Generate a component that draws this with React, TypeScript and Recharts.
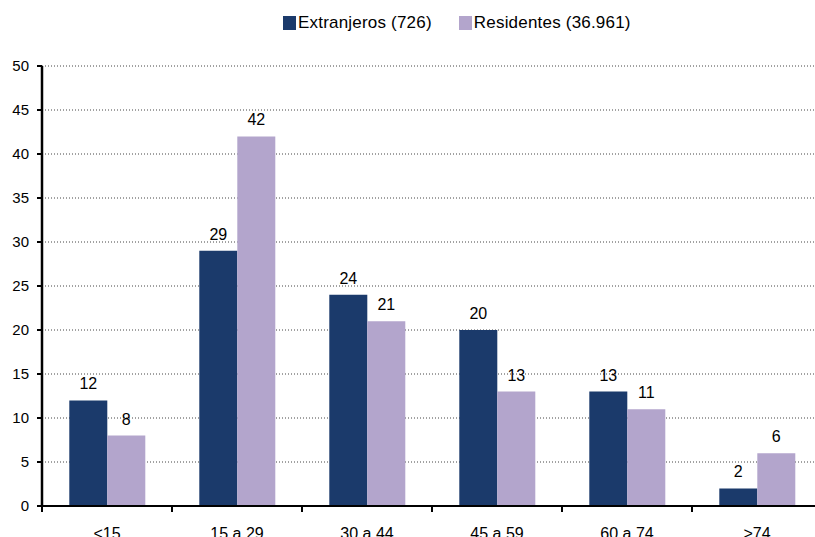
import React from 'react';
import { BarChart, Bar, XAxis, YAxis, CartesianGrid, Legend, LabelList } from 'recharts';

const categories = ['<15', '15 a 29', '30 a 44', '45 a 59', '60 a 74', '>74'];
const extranjeros = [12, 29, 24, 20, 13, 2];
const residentes = [8, 42, 21, 13, 11, 6];
const yTicks = [0, 5, 10, 15, 20, 25, 30, 35, 40, 45, 50];
const seriesNames = ['Extranjeros (726)', 'Residentes (36.961)'];
const seriesColors = ['#1B3A6B', '#B3A5CC'];

const data = categories.map((c, i) => ({ cat: c, ext: extranjeros[i], res: residentes[i] }));

const FONT = '"Liberation Sans", Arial, sans-serif';
const HALF_BAND = 65;

const XTick = (props: any) => {
  const { x, y, payload } = props;
  const axisY = y - 22;
  return (
    <g>
      <line x1={x - HALF_BAND} x2={x - HALF_BAND} y1={axisY} y2={axisY + 6} stroke="#000" strokeWidth={2} />
      <text x={x} y={y} dy="0.71em" textAnchor="middle" fontSize={16} fontFamily={FONT} fill="#000">
        {payload.value}
      </text>
    </g>
  );
};

const LegendContent = () => (
  <div style={{ display: 'flex', alignItems: 'center', fontFamily: FONT, fontSize: 17, color: '#000' }}>
    {seriesNames.map((n, i) => (
      <div key={n} style={{ display: 'flex', alignItems: 'center', marginRight: i === 0 ? 27 : 0 }}>
        <div style={{ width: 13, height: 14, background: seriesColors[i], marginRight: 2 }} />
        <span style={{ whiteSpace: 'nowrap', letterSpacing: 0.2 }}>{n}</span>
      </div>
    ))}
  </div>
);

export default function App() {
  return (
    <div style={{ position: 'fixed', left: 0, top: 0, width: 815, height: 537, overflow: 'hidden', background: '#fff' }}>
      <BarChart
        width={830}
        height={560}
        data={data}
        margin={{ top: 66, right: 8, bottom: 24, left: 0 }}
        barCategoryGap="21%"
        barGap={0}
      >
        <CartesianGrid vertical={false} stroke="#444" strokeDasharray="1 2" />
        <XAxis
          dataKey="cat"
          height={30}
          tick={<XTick />}
          tickLine={false}
          tickSize={6}
          tickMargin={16}
          axisLine={{ stroke: '#000', strokeWidth: 2 }}
          interval={0}
        />
        <YAxis
          width={42}
          domain={[0, 50]}
          ticks={yTicks}
          interval={0}
          tickSize={5}
          tickMargin={8}
          tickLine={{ stroke: '#000', strokeWidth: 2 }}
          axisLine={{ stroke: '#000', strokeWidth: 2.5 }}
          tick={{ fill: '#000', fontSize: 15, fontFamily: FONT }}
        />
        <Legend
          verticalAlign="middle"
          align="center"
          layout="horizontal"
          content={<LegendContent />}
          wrapperStyle={{ position: 'absolute', left: 283, top: 13, width: 'auto' }}
        />
        <Bar dataKey="ext" name={seriesNames[0]} fill={seriesColors[0]} isAnimationActive={false}>
          <LabelList dataKey="ext" position="top" offset={11} fill="#000" fontSize={16} fontFamily={FONT} />
        </Bar>
        <Bar dataKey="res" name={seriesNames[1]} fill={seriesColors[1]} isAnimationActive={false}>
          <LabelList dataKey="res" position="top" offset={11} fill="#000" fontSize={16} fontFamily={FONT} />
        </Bar>
      </BarChart>
    </div>
  );
}
